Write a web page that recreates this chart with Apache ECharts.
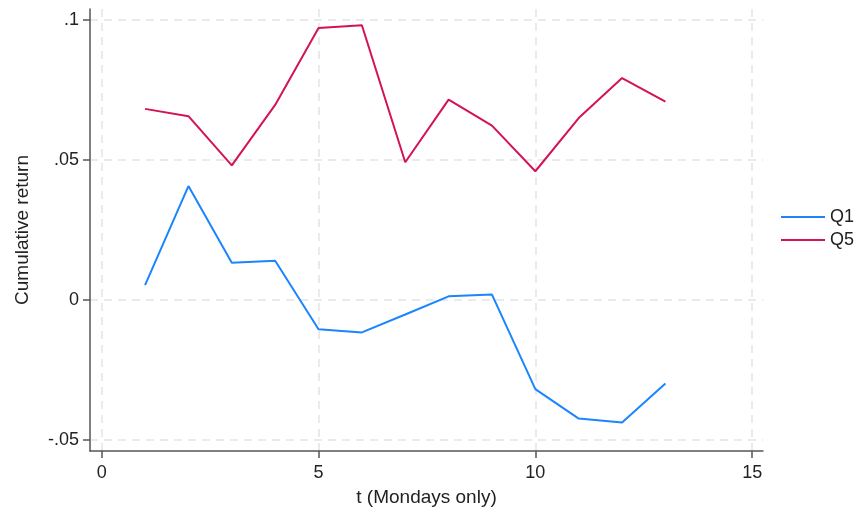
<!DOCTYPE html>
<html><head><meta charset="utf-8">
<script src="https://cdn.jsdelivr.net/npm/echarts@6/dist/echarts.min.js"></script>
<style>html,body{margin:0;padding:0;background:#fff}#c{width:859px;height:512px}</style>
</head><body><div id="c"></div>
<script>
const t = [1,2,3,4,5,6,7,8,9,10,11,12,13];
const q1 = [0.0053,0.0407,0.0133,0.0140,-0.0105,-0.0116,-0.0052,0.0013,0.0019,-0.0319,-0.0424,-0.0438,-0.0299];
const q5 = [0.0683,0.0657,0.0481,0.0697,0.0972,0.0982,0.0492,0.0716,0.0623,0.0460,0.0650,0.0793,0.0709];
const xTicks = [0,5,10,15];
const yTicks = [-0.05,0,0.05,0.1];
const yTickLabels = ['-.05','0','.05','.1'];

const font = 'Liberation Sans, Arial, sans-serif';
const chart = echarts.init(document.getElementById('c'));
chart.setOption({
  animation:false,
  textStyle:{fontFamily:font},
  grid:{left:90,top:9,right:96,bottom:59,containLabel:false},
  legend:{
    orient:'vertical', left:776, top:203, itemWidth:44, itemHeight:12, itemGap:5,
    icon:'path://M0,5 L44,5 L44,7 L0,7 Z',
    textStyle:{fontSize:18,color:'#222',fontFamily:font},
    data:['Q1','Q5']
  },
  xAxis:{
    type:'value', min:-0.27, max:15.25,
    name:'t (Mondays only)', nameLocation:'middle', nameGap:37,
    nameTextStyle:{fontSize:19,color:'#222',fontFamily:font},
    axisLine:{show:true,onZero:false,lineStyle:{color:'#555',width:1.5}},
    axisTick:{show:true,inside:false,length:7,customValues:xTicks,lineStyle:{color:'#555',width:1.5}},
    axisLabel:{customValues:xTicks,fontSize:18,color:'#222',margin:13,fontFamily:font},
    splitLine:{show:true,lineStyle:{color:'#e4e4e4',type:[8,6],width:1.5}}
  },
  yAxis:{
    type:'value', min:-0.054, max:0.104,
    name:'Cumulative return', nameLocation:'middle', nameGap:58, nameRotate:90,
    nameTextStyle:{fontSize:19,color:'#222',fontFamily:font},
    axisLine:{show:true,onZero:false,lineStyle:{color:'#555',width:1.5}},
    axisTick:{show:true,inside:false,length:7,customValues:yTicks,lineStyle:{color:'#555',width:1.5}},
    axisLabel:{customValues:yTicks,fontSize:18,color:'#222',margin:11,fontFamily:font,
      formatter:function(v){const i=yTicks.findIndex(x=>Math.abs(x-v)<1e-9);return i>=0?yTickLabels[i]:'';}},
    splitLine:{show:true,lineStyle:{color:'#e4e4e4',type:[8,6],width:1.5}}
  },
  series:[
    {name:'Q1',type:'line',data:t.map((x,i)=>[x,q1[i]]),showSymbol:false,symbol:'none',
     lineStyle:{color:'#1a85ff',width:2},itemStyle:{color:'#1a85ff'}},
    {name:'Q5',type:'line',data:t.map((x,i)=>[x,q5[i]]),showSymbol:false,symbol:'none',
     lineStyle:{color:'#d41159',width:2},itemStyle:{color:'#d41159'}}
  ]
});
</script></body></html>
